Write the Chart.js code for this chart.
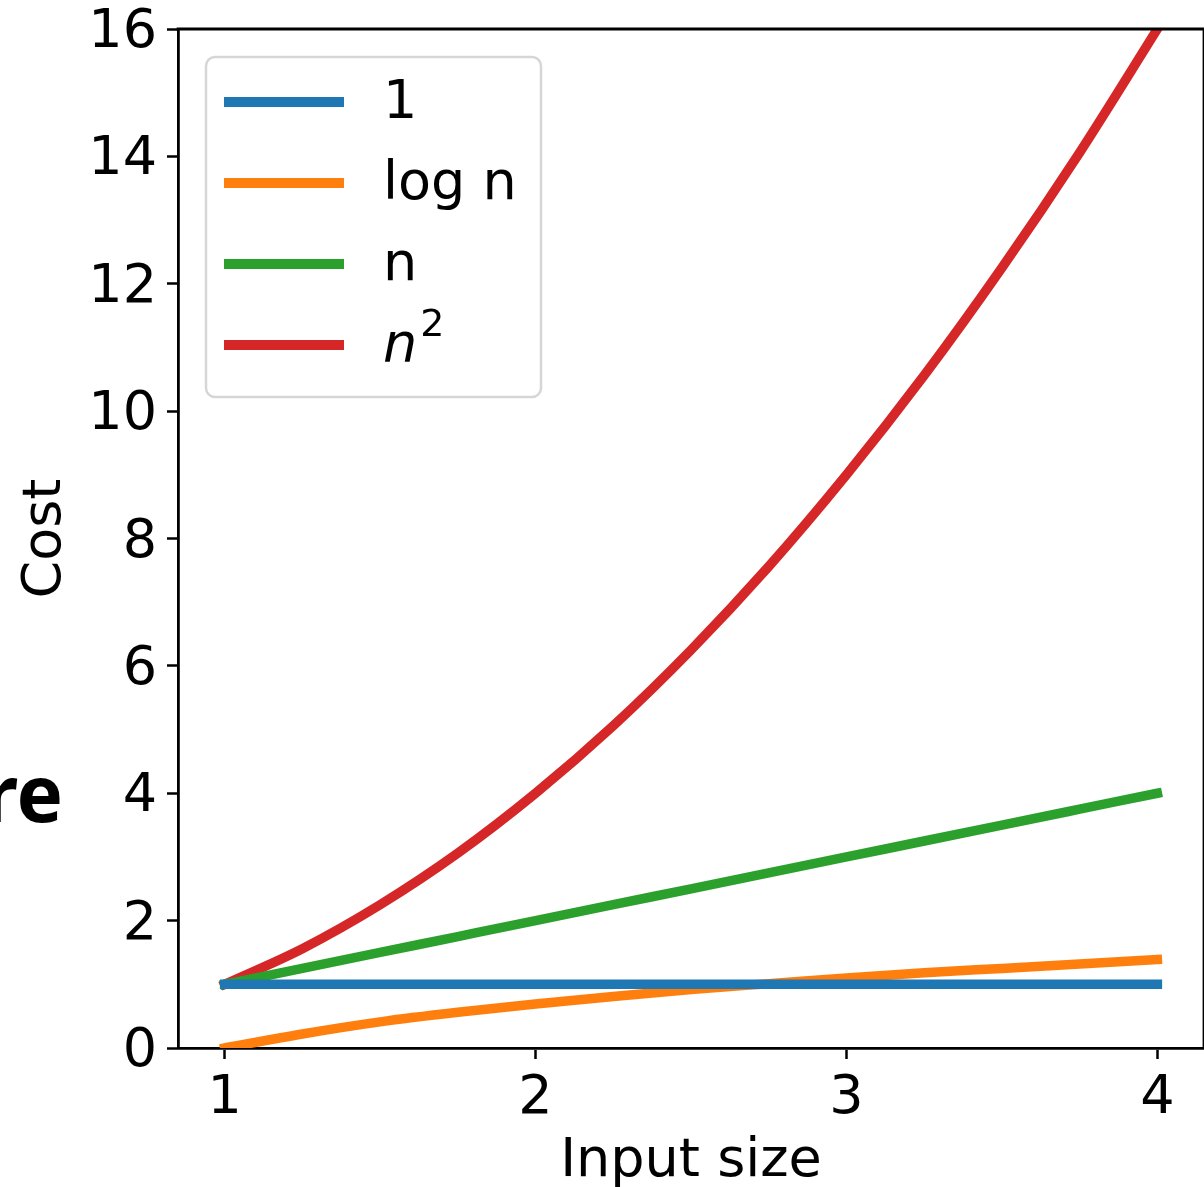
<!DOCTYPE html>
<html>
<head>
<meta charset="utf-8">
<script src="https://cdn.jsdelivr.net/npm/chart.js@4/dist/chart.umd.min.js"></script>
<style>
  html, body { margin: 0; padding: 0; background: #ffffff; }
  #wrap { position: relative; width: 1204px; height: 1187px; overflow: hidden; background: #fff; }
  #c { position: absolute; left: 0; top: 0; }
  #side { position: absolute; right: 1141px; top: 742px; font-family: "Noto Sans", "Open Sans", sans-serif; font-weight: bold; font-size: 78px; line-height: 100px; color: #000; white-space: nowrap; text-align: right; }
</style>
</head>
<body>
<div id="wrap">
  <canvas id="c" width="1204" height="1187"></canvas>
  <div id="side">re</div>
</div>
<script>
// ---- data ----
const inputSizes   = [1, 1.25, 1.5, 1.75, 2, 2.25, 2.5, 2.75, 3, 3.25, 3.5, 3.75, 4];
const constCost    = [1, 1, 1, 1, 1, 1, 1, 1, 1, 1, 1, 1, 1];
const logCost      = [0, 0.22, 0.41, 0.56, 0.69, 0.81, 0.92, 1.01, 1.10, 1.18, 1.25, 1.32, 1.39];
const linearCost   = [1, 1.25, 1.5, 1.75, 2, 2.25, 2.5, 2.75, 3, 3.25, 3.5, 3.75, 4];
const squareCost   = [1, 1.56, 2.25, 3.06, 4, 5.06, 6.25, 7.56, 9, 10.56, 12.25, 14.06, 16];
const seriesLabels = ['1', 'log n', 'n', 'n²'];
const seriesColors = ['#1f77b4', '#ff7f0e', '#2ca02c', '#d62728'];
const xTickValues  = [1, 2, 3, 4];
const yTickValues  = [0, 2, 4, 6, 8, 10, 12, 14, 16];
const xAxisTitle   = 'Input size';
const yAxisTitle   = 'Cost';

const FONT = '"DejaVu Sans", sans-serif';
const seriesValues = [constCost, logCost, linearCost, squareCost];

const datasets = seriesValues.map((vals, i) => ({
  label: seriesLabels[i],
  data: inputSizes.map((x, j) => ({ x: x, y: vals[j] })),
  borderColor: seriesColors[i],
  backgroundColor: seriesColors[i],
  borderWidth: 9.5,
  borderCapStyle: 'square',
  pointRadius: 0,
  cubicInterpolationMode: 'monotone',
  fill: false
}));

const framePlugin = {
  id: 'frame',
  afterDraw(chart) {
    const { ctx, chartArea: a } = chart;
    ctx.save();
    ctx.strokeStyle = '#000';
    ctx.lineWidth = 2.8;
    ctx.beginPath();
    ctx.moveTo(a.left - 1.4, a.top);
    ctx.lineTo(a.right + 2, a.top);
    ctx.stroke();
    ctx.beginPath();
    ctx.moveTo(a.right, a.top);
    ctx.lineTo(a.right, a.bottom);
    ctx.stroke();
    ctx.restore();
  }
};

const legendPlugin = {
  id: 'boxLegend',
  afterDraw(chart) {
    const { ctx, chartArea: a } = chart;
    const x0 = a.left + 28, y0 = a.top + 28, w = 335, h = 340, r = 9;
    ctx.save();
    ctx.globalAlpha = 0.8;
    ctx.fillStyle = '#ffffff';
    ctx.beginPath();
    ctx.roundRect(x0, y0, w, h, r);
    ctx.fill();
    ctx.globalAlpha = 1;
    ctx.strokeStyle = '#d6d6d6';
    ctx.lineWidth = 2.5;
    ctx.stroke();
    chart.data.datasets.forEach((ds, i) => {
      const ly = y0 + 45 + i * 81;
      ctx.strokeStyle = ds.borderColor;
      ctx.lineWidth = 10;
      ctx.lineCap = 'butt';
      ctx.beginPath();
      ctx.moveTo(x0 + 18, ly);
      ctx.lineTo(x0 + 138, ly);
      ctx.stroke();
      ctx.fillStyle = '#000';
      ctx.textBaseline = 'middle';
      ctx.textAlign = 'left';
      const tx = x0 + 177;
      if (ds.label.endsWith('²')) {
        const base = ds.label.slice(0, -1);
        ctx.font = 'italic 54px ' + FONT;
        ctx.fillText(base, tx, ly + 2);
        const bw = ctx.measureText(base).width;
        ctx.font = '38px ' + FONT;
        ctx.fillText('2', tx + bw + 3, ly - 19);
      } else {
        ctx.font = '54px ' + FONT;
        ctx.fillText(ds.label, tx, ly + 2);
      }
    });
    ctx.restore();
  }
};

new Chart(document.getElementById('c'), {
  type: 'line',
  data: { datasets: datasets },
  plugins: [framePlugin, legendPlugin],
  options: {
    responsive: false,
    animation: false,
    events: [],
    layout: { padding: { left: 0, top: 29, right: 0, bottom: 0 } },
    plugins: { legend: { display: false }, tooltip: { enabled: false } },
    scales: {
      x: {
        type: 'linear',
        min: 0.85,
        max: 4.15,
        afterBuildTicks(scale) { scale.ticks = xTickValues.map(v => ({ value: v })); },
        afterFit(scale) { scale.height = 139; scale.paddingLeft = 0; scale.paddingRight = 0; },
        grid: { display: true, drawOnChartArea: false, drawTicks: true, tickLength: 11, tickWidth: 2.5, tickColor: '#000' },
        border: { display: true, color: '#000', width: 2.8 },
        ticks: { color: '#000', font: { family: FONT, size: 54, lineHeight: 1 }, padding: 13, maxRotation: 0 },
        title: { display: true, text: xAxisTitle, color: '#000', font: { family: FONT, size: 54, lineHeight: 1 }, padding: { top: 0, bottom: -2 } }
      },
      y: {
        type: 'linear',
        min: 0,
        max: 16,
        afterBuildTicks(scale) { scale.ticks = yTickValues.map(v => ({ value: v })); },
        afterFit(scale) { scale.width = 178; scale.paddingTop = 0; scale.paddingBottom = 0; },
        grid: { display: true, drawOnChartArea: false, drawTicks: true, tickLength: 11, tickWidth: 2.5, tickColor: '#000' },
        border: { display: true, color: '#000', width: 2.8 },
        ticks: { color: '#000', font: { family: FONT, size: 54, lineHeight: 1 }, padding: 10, labelOffset: 4 },
        title: { display: true, text: yAxisTitle, color: '#000', font: { family: FONT, size: 54, lineHeight: 1 }, padding: { top: 19, bottom: 0 } }
      }
    }
  }
});
</script>
</body>
</html>
